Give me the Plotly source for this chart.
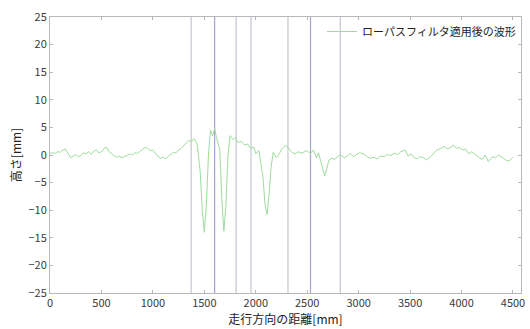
import plotly.graph_objects as go

# Distance along travel direction [mm]
distance_mm = [
    0, 25, 50, 75, 100, 125, 150, 175, 200, 225, 250, 275, 300, 325, 350, 375,
    400, 425, 450, 475, 500, 525, 550, 575, 600, 625, 650, 675, 700, 725, 750,
    775, 800, 825, 850, 875, 900, 925, 950, 975, 1000, 1025, 1050, 1075, 1100,
    1125, 1150, 1175, 1200, 1225, 1250, 1275, 1300, 1325, 1350, 1375, 1400,
    1430, 1460, 1480, 1500, 1520, 1540, 1560, 1580, 1600, 1620, 1650, 1670,
    1690, 1710, 1730, 1750, 1780, 1800, 1830, 1860, 1890, 1920, 1950, 1980,
    2000, 2030, 2050, 2070, 2090, 2110, 2130, 2150, 2170, 2200, 2230, 2260,
    2290, 2320, 2350, 2380, 2410, 2440, 2470, 2500, 2530, 2560, 2590, 2610,
    2630, 2650, 2670, 2690, 2710, 2740, 2770, 2800, 2830, 2860, 2890, 2920,
    2950, 2980, 3010, 3050, 3080, 3110, 3150, 3180, 3210, 3250, 3280, 3310,
    3350, 3380, 3410, 3450, 3480, 3510, 3540, 3570, 3600, 3630, 3660, 3700,
    3730, 3760, 3800, 3830, 3860, 3890, 3920, 3950, 3980, 4010, 4040, 4070,
    4100, 4130, 4160, 4200, 4230, 4260, 4300, 4330, 4360, 4400, 4430, 4460,
    4500, 4530, 4560, 4578,
]

# Height after low-pass filtering [mm]
height_mm = [
    0.3, 0.4, 0.3, 0.6, 0.5, 0.9, 1.1, 0.2, -0.5, -0.2, 0.1, -0.3, -0.1, 0.4,
    0.2, 0.6, 0.1, 0.7, 0.9, 0.4, 0.6, 1.2, 1.4, 0.6, 0.3, -0.2, -0.4, -0.2,
    -0.5, -0.3, -0.1, 0.2, 0.0, 0.4, 0.3, 0.7, 1.0, 1.4, 1.2, 0.8, 0.9, 0.2,
    -0.3, -0.6, -0.4, -0.7, -0.2, 0.1, 0.5, 0.4, 0.9, 1.2, 1.8, 2.2, 2.6, 2.4,
    3.0, 2.0, -3.0, -10.0, -14.0, -9.0, 0.0, 4.5, 3.5, 4.8, 3.0, 1.0, -8.0,
    -13.8, -9.0, 0.0, 3.5, 2.8, 3.2, 2.2, 2.5, 1.8, 2.0, 1.2, 1.5, 0.2, 0.8,
    -1.5, -4.0, -9.0, -10.8, -7.0, -2.0, 0.5, -0.5, 0.3, 1.2, 1.8, 1.2, 0.5,
    0.2, 0.6, 0.3, 0.5, 0.8, 0.2, 0.9, -0.5, 0.4, -1.0, -2.5, -3.8, -2.5, -1.0,
    -0.6, -0.8, -0.2, 0.0, -0.5, -0.2, 0.3, -0.3, 0.1, 0.4, 0.2, -0.3, -0.6,
    -0.4, -0.7, -0.2, -0.3, 0.1, -0.1, 0.3, 0.1, 0.6, 0.9, -0.2, 0.2, -0.5,
    -0.7, -0.3, -0.5, -0.9, -0.3, 0.4, 0.9, 1.2, 1.6, 1.1, 1.3, 1.8, 1.2, 1.4,
    0.9, 1.1, 0.2, 0.6, 0.1, -0.3, -0.8, 0.0, -1.2, -0.3, -0.5, 0.0, -0.5,
    -0.9, -1.1, -0.4,
]

# Marker (vertical reference line) positions [mm]
marker_positions = [1372, 1600, 1809, 1954, 2313, 2532, 2821]
marker_colors = ["#c4c4d2", "#a4a4d4", "#c4c4d2", "#c4c4d2", "#c4c4d2", "#a4a4d4", "#c4c4d2"]

x_ticks = [0, 500, 1000, 1500, 2000, 2500, 3000, 3500, 4000, 4500]
y_ticks = [-25, -20, -15, -10, -5, 0, 5, 10, 15, 20, 25]

series_name = "ローパスフィルタ適用後の波形"
x_title = "走行方向の距離[mm]"
y_title = "高さ[mm]"

fig = go.Figure()

for pos, col in zip(marker_positions, marker_colors):
    fig.add_shape(type="line", x0=pos, x1=pos, y0=0, y1=1, xref="x", yref="paper",
                  line=dict(color=col, width=1.2), layer="below")

fig.add_trace(go.Scatter(
    x=distance_mm, y=height_mm, mode="lines", name=series_name,
    line=dict(color="#9fdc9f", width=1),
))

font_family = "Noto Sans CJK JP"
axis_common = dict(
    showgrid=False, zeroline=False, showline=True, linecolor="#b8b8b8",
    linewidth=1, mirror="ticks", ticks="inside", ticklen=3, tickcolor="#b8b8b8",
    tickfont=dict(family=font_family, size=11, color="#3a3a3a"),
)

fig.update_layout(
    width=530, height=329,
    margin=dict(l=50, r=5, t=17, b=36),
    paper_bgcolor="white", plot_bgcolor="white",
    font=dict(family=font_family, color="#222222"),
    showlegend=True,
    legend=dict(x=1, y=1, xanchor="right", yanchor="top", bgcolor="rgba(255,255,255,0)",
                font=dict(family=font_family, size=11, color="#222222"),
                itemwidth=30, borderwidth=0),
    xaxis=dict(range=[0, 4578], tickvals=x_ticks, **axis_common,
               title=dict(text=x_title, font=dict(family=font_family, size=12), standoff=2)),
    yaxis=dict(range=[-25, 25], tickvals=y_ticks, **axis_common,
               title=dict(text=y_title, font=dict(family=font_family, size=12), standoff=4)),
)

fig.write_html("out.html")
